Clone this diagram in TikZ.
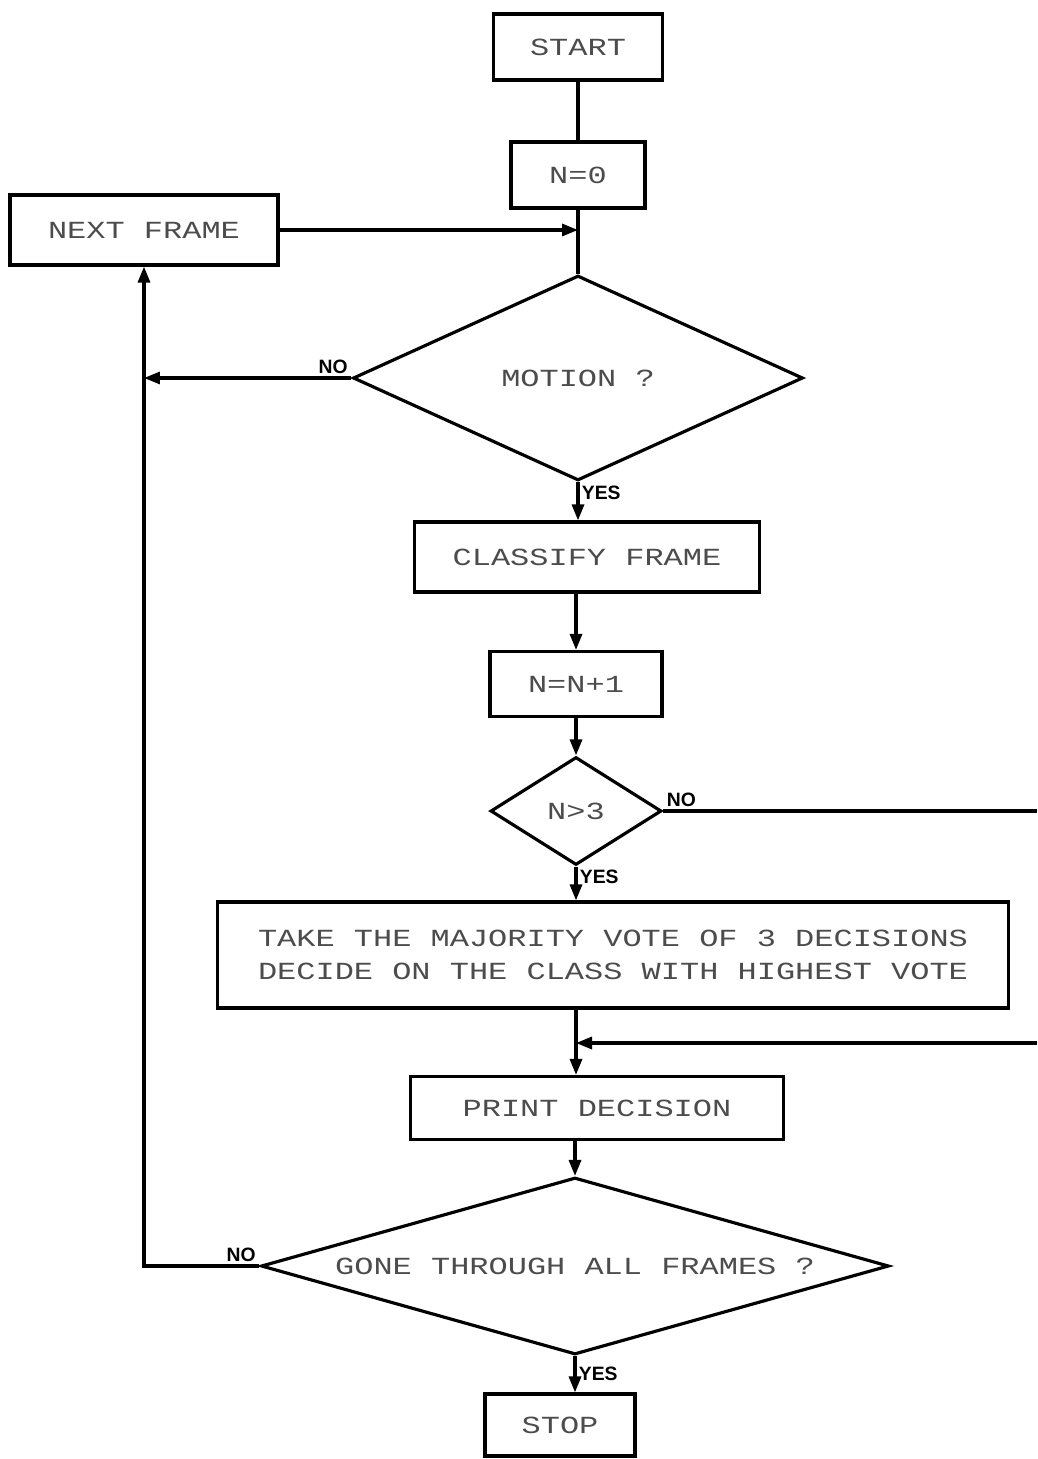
\documentclass[tikz,border=0pt]{standalone}
\usepackage{fontspec}
\newfontfamily\plotfont[FakeStretch=1.3]{Liberation Mono}
\newfontfamily\markfont{Liberation Sans}
\usetikzlibrary{shapes.geometric,arrows.meta}

\tikzset{
  box/.style={draw, line width=1.8pt, inner sep=0pt, text=black!70,
    font=\plotfont\fontsize{14}{19}\selectfont},
  decision/.style={box, diamond},
  flow/.style={line width=1.8pt, -{Triangle[length=0.32cm,width=0.24cm]}},
  link/.style={line width=1.8pt},
  answer/.style={inner sep=2pt, font=\markfont\bfseries\fontsize{11}{12}\selectfont},
}

\begin{document}
\begin{tikzpicture}[x=0.02cm,y=-0.02cm]
%\draw [help lines, step=50] (0,0) grid (1037,1459);
\useasboundingbox (0,0) rectangle (1037,1459);
\node [box, minimum width=3.38cm, minimum height=1.32cm] (start) at (578,47) {START};
\node [box, minimum width=2.68cm, minimum height=1.32cm] (init) at (578,175) {N=0};
\node [box, minimum width=5.36cm, minimum height=1.4cm] (next) at (144,230) {NEXT FRAME};
\node [decision, aspect=2.2, minimum width=9cm, minimum height=4.1cm] (motion) at (578,378) {MOTION ?};
\node [box, minimum width=6.9cm, minimum height=1.4cm] (classify) at (587,557) {CLASSIFY FRAME};
\node [box, minimum width=3.44cm, minimum height=1.3cm] (count) at (576,684) {N=N+1};
\node [decision, aspect=1.6, minimum width=3.42cm, minimum height=2.16cm] (check) at (576,811) {N>3};
\node [box, minimum width=15.82cm, minimum height=2.12cm, align=center] (vote) at (613,955)
  {TAKE THE MAJORITY VOTE OF 3 DECISIONS\\DECIDE ON THE CLASS WITH HIGHEST VOTE};
\node [box, minimum width=7.46cm, minimum height=1.26cm] (print) at (597,1108) {PRINT DECISION};
\node [decision, aspect=3.5, minimum width=12.56cm, minimum height=3.54cm] (gone) at (575,1266) {GONE THROUGH ALL FRAMES ?};
\node [box, minimum width=3cm, minimum height=1.24cm] (stop) at (560,1425) {STOP};
\coordinate (rim) at (1037,0);
\coordinate (back) at (1037,1043);
% main line
\draw [link] (start) -- (init);
\draw [link] (init) -- (motion.north);
\draw [flow] (next.east) -- (next.east -| motion.north);
\draw [flow] (motion.south) -- (motion.south |- classify.north);
\draw [flow] (classify.south -| count.north) -- (count.north);
\draw [flow] (count.south) -- (check.north);
\draw [flow] (check.south) -- (check.south |- vote.north);
\draw [flow] (vote.south -| check.south) -- (print.north -| check.south);
\draw [flow] (print.south -| gone.north) -- (gone.north);
\draw [flow] (gone.south) -- (gone.south |- stop.north);
% branches
\draw [flow] (motion.west) -- (motion.west -| next.south);
\draw [flow] (gone.west) -- (gone.west -| next.south) -- (next.south);
\draw [link] (check.east) -- (check.east -| rim);
\draw [flow] (back) -- (back -| check.south);
\node [answer, above left] at (motion.west) {NO};
\node [answer, below right] at (motion.south) {YES};
\node [answer, above right] at (check.east) {NO};
\node [answer, below right] at (check.south) {YES};
\node [answer, above left] at (gone.west) {NO};
\node [answer, below right, yshift=-4pt] at (gone.south) {YES};
\end{tikzpicture}
\end{document}
